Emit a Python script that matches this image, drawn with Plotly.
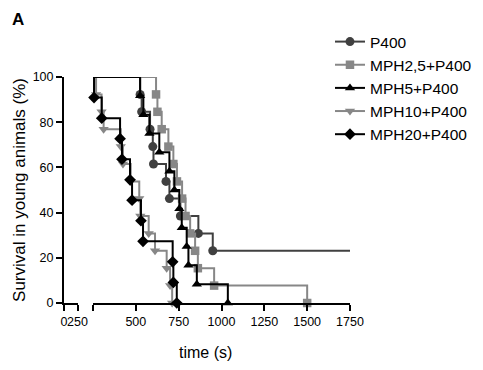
import plotly.graph_objects as go

# ---- data (time in s, survival in %) ----
series_names = ["P400", "MPH2,5+P400", "MPH5+P400", "MPH10+P400", "MPH20+P400"]

p400_t = [525, 534, 583, 599, 603, 676, 696, 760, 865, 949]
p400_s = [92.3, 84.6, 76.9, 69.2, 61.5, 53.8, 46.2, 38.5, 30.8, 23.1]
p400_end = 1750  # censored follow-up end

mph25_t = [618, 626, 651, 690, 719, 740, 770, 790, 817, 846, 862, 957, 1500]
mph25_s = [92.3, 84.6, 76.9, 69.2, 61.5, 53.8, 46.2, 38.5, 30.8, 23.1, 15.4, 7.7, 0]

mph5_t = [525, 544, 579, 637, 696, 725, 754, 768, 797, 807, 856, 1037]
mph5_s = [91.7, 83.3, 75.0, 66.7, 58.3, 50.0, 41.7, 33.3, 25.0, 16.7, 8.3, 0]

mph10_t = [268, 300, 312, 412, 425, 470, 520, 526, 575, 612, 680, 700, 712]
mph10_s = [92.3, 84.6, 76.9, 69.2, 61.5, 53.8, 46.2, 38.5, 30.8, 23.1, 15.4, 7.7, 0]

mph20_t = [256, 301, 408, 419, 466, 478, 530, 542, 715, 719, 739]
mph20_s = [90.9, 81.8, 72.7, 63.6, 54.5, 45.5, 36.4, 27.3, 18.2, 9.1, 0]

x1_ticks = [0, 250]
x1_labels = ["0", "250"]
x2_ticks = [250, 500, 750, 1000, 1250, 1500, 1750]
x2_labels = ["", "500", "750", "1000", "1250", "1500", "1750"]
y_ticks = [0, 20, 40, 60, 80, 100]

SEG1 = (0, 250)
SEG2 = (250, 1750)

styles = [
    dict(color="#404040", symbol="circle", size=9),
    dict(color="#878787", symbol="square", size=8.5),
    dict(color="#000000", symbol="triangle-up", size=9),
    dict(color="#878787", symbol="triangle-down", size=9),
    dict(color="#000000", symbol="diamond", size=9),
]

def step_path(ts, ss, t_end=None, lo=SEG2[0]):
    xs, ys = [lo], [100.0]
    prev = 100.0
    for t, s in zip(ts, ss):
        xs += [t, t]
        ys += [prev, s]
        prev = s
    if t_end is not None:
        xs.append(t_end)
        ys.append(prev)
    return xs, ys

data = [
    (p400_t, p400_s, p400_end),
    (mph25_t, mph25_s, None),
    (mph5_t, mph5_s, None),
    (mph10_t, mph10_s, None),
    (mph20_t, mph20_s, None),
]

fig = go.Figure()

# empty trace so the short first axis segment is drawn
fig.add_trace(go.Scatter(x=[None], y=[None], mode="lines", xaxis="x", yaxis="y",
                         showlegend=False, hoverinfo="skip"))

# legend entries (in legend order)
for name, st in zip(series_names, styles):
    fig.add_trace(go.Scatter(
        x=[None], y=[None], mode="lines+markers", name=name,
        line=dict(color=st["color"], width=2),
        marker=dict(color=st["color"], symbol=st["symbol"], size=st["size"]),
        xaxis="x2", yaxis="y", showlegend=True))

# drawing order: grey series underneath, black on top
draw_order = [0, 1, 3, 2, 4]
for i in draw_order:
    ts, ss, tend = data[i]
    st = styles[i]
    xs, ys = step_path(ts, ss, tend)
    fig.add_trace(go.Scatter(
        x=xs, y=ys, mode="lines", line=dict(color=st["color"], width=2),
        xaxis="x2", yaxis="y", showlegend=False, cliponaxis=False, hoverinfo="skip"))
    fig.add_trace(go.Scatter(
        x=ts, y=ss, mode="markers",
        marker=dict(color=st["color"], symbol=st["symbol"], size=st["size"]),
        xaxis="x2", yaxis="y", showlegend=False, cliponaxis=False))

FONT = "Liberation Sans, Arial, sans-serif"
axis_common = dict(showline=True, linecolor="black", linewidth=2, ticks="outside",
                   ticklen=6, tickwidth=2, tickcolor="black", showgrid=False,
                   zeroline=False, automargin=False, tickangle=0,
                   tickfont=dict(family=FONT, size=12.5, color="black"))

fig.update_layout(
    width=483, height=370,
    margin=dict(l=56, r=141, t=69, b=75, autoexpand=False),
    paper_bgcolor="white", plot_bgcolor="white",
    font=dict(family=FONT, color="black"),
    xaxis=dict(domain=[0, 13.5 / 286], range=list(SEG1), tickmode="array",
               tickvals=x1_ticks, ticktext=x1_labels, anchor="y", **axis_common),
    xaxis2=dict(domain=[29 / 286, 1], range=list(SEG2), tickmode="array",
                tickvals=x2_ticks, ticktext=x2_labels, anchor="y", **axis_common),
    yaxis=dict(range=[0, 100], tickmode="array", tickvals=y_ticks, anchor="x",
               title=dict(text="Survival in young animals (%)", font=dict(family=FONT, size=17), standoff=3),
               **axis_common),
    legend=dict(x=0.930, y=1.23, xanchor="left", yanchor="top",
                font=dict(family=FONT, size=15.5), bgcolor="rgba(0,0,0,0)",
                itemwidth=30, tracegroupgap=0),
    showlegend=True,
    annotations=[
        dict(text="<b>A</b>", x=-0.189, y=1.305, xref="paper", yref="paper",
             xanchor="left", yanchor="top", showarrow=False,
             font=dict(family=FONT, size=17, color="black")),
        dict(text="time (s)", x=0.4965, y=-0.217, xref="paper", yref="paper",
             xanchor="center", yanchor="middle", showarrow=False,
             font=dict(family=FONT, size=16, color="black")),
    ],
)

fig.write_html("out.html")
